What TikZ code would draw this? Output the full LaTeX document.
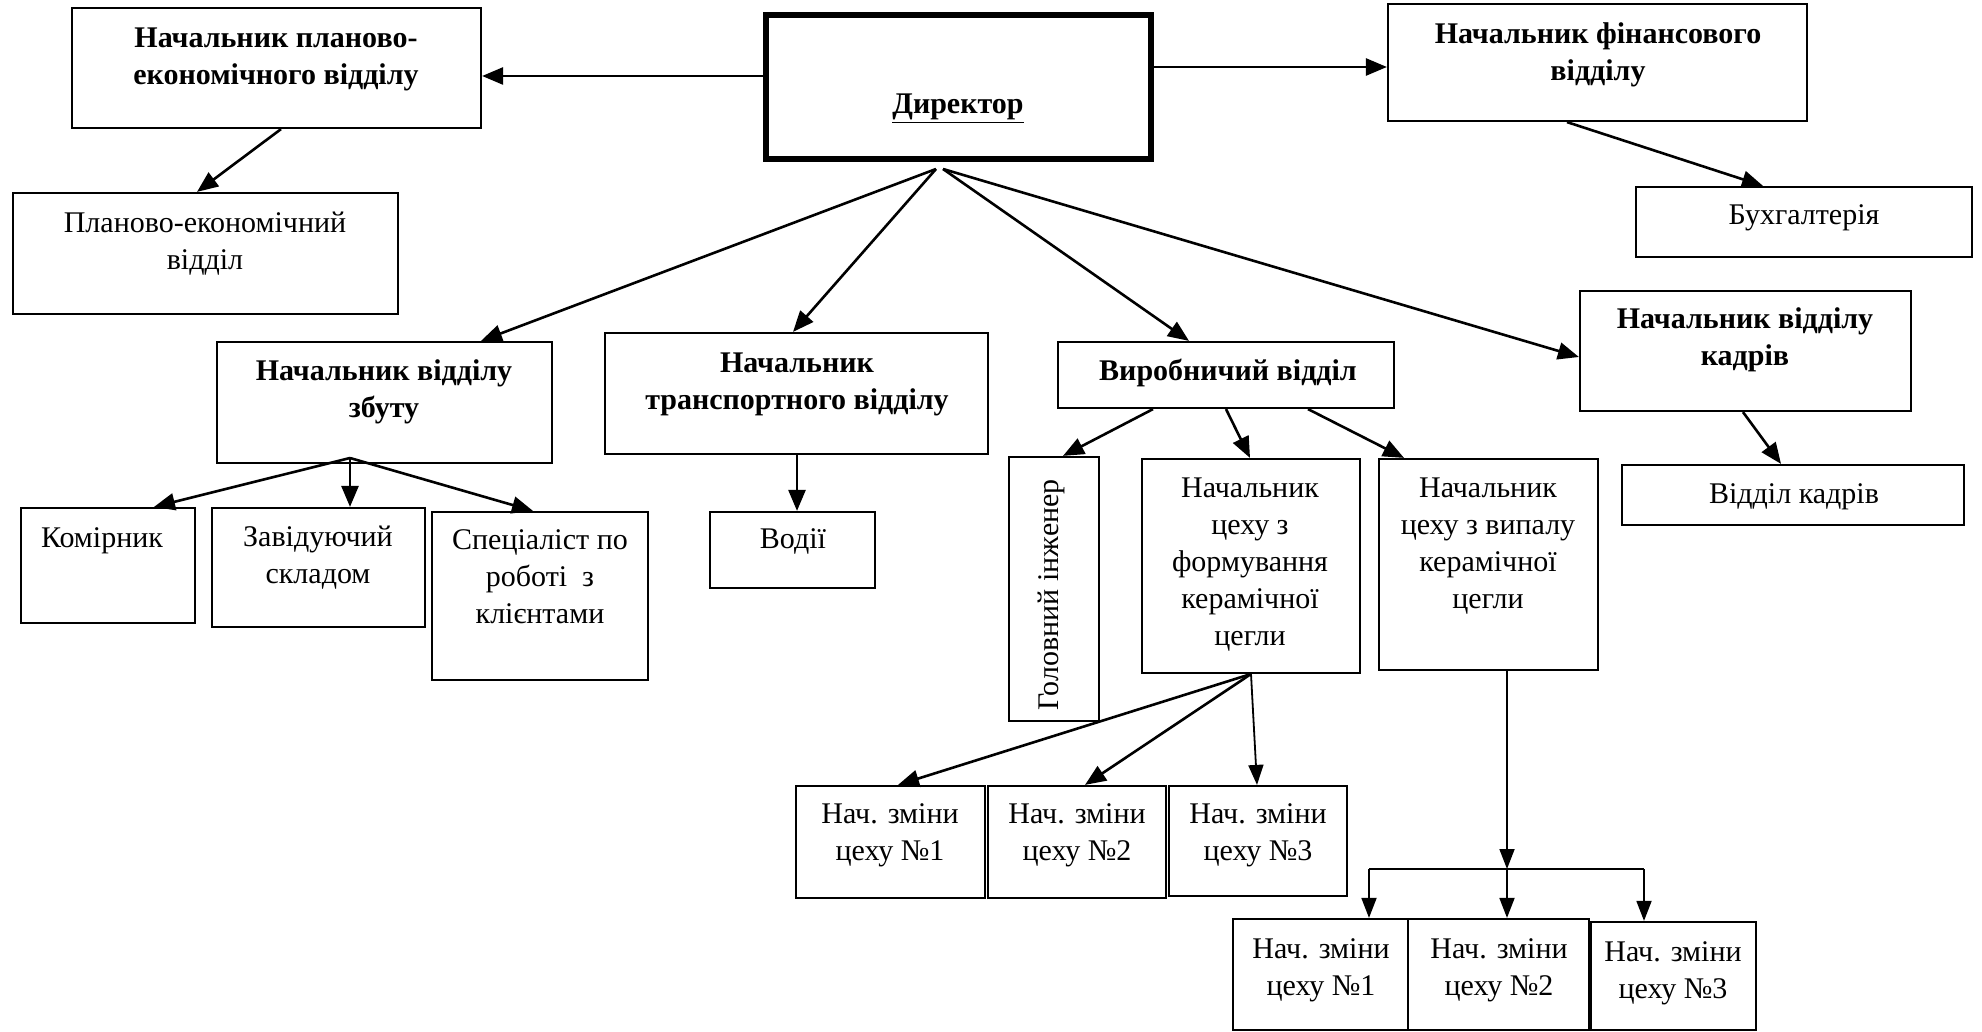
\documentclass[tikz,border=0pt]{standalone}
\usepackage{fontspec}
\setmainfont{Liberation Serif}
\usetikzlibrary{arrows.meta,fit,calc}
\newcommand\firstln{\rule{0pt}{12pt}}
\begin{document}
\begin{tikzpicture}[x=0.5pt,y=-0.5pt,
  box/.style={draw, line width=1.1pt, inner sep=0pt},
  dirbox/.style={draw, line width=2.6pt, inner sep=0pt},
  txt/.style={font=\fontsize{15}{18.5}\selectfont, align=center, inner sep=0pt, anchor=north},
  btxt/.style={txt, font=\fontsize{15}{18.5}\selectfont\bfseries},
  arr/.style={line width=1.3pt, -{Triangle[length=10.5pt,width=8.5pt]}},
  tarr/.style={line width=0.9pt, -{Triangle[length=10pt,width=7.5pt]}},
  ln/.style={line width=1.3pt}]
\useasboundingbox (0,0) rectangle (1982,1032);

% boxes
\node (pehead) [box, fit={(72,8) (481,128)}] {};
\node (dir)    [dirbox, fit={(766,15) (1151,159)}] {};
\node (fin)    [box, fit={(1388,4) (1807,121)}] {};
\node (pedept) [box, fit={(13,193) (398,314)}] {};
\node (buh)    [box, fit={(1636,187) (1972,257)}] {};
\node (sales)  [box, fit={(217,342) (552,463)}] {};
\node (trans)  [box, fit={(605,333) (988,454)}] {};
\node (prod)   [box, fit={(1058,342) (1394,408)}] {};
\node (hrhead) [box, fit={(1580,291) (1911,411)}] {};
\node (hrdept) [box, fit={(1622,465) (1964,525)}] {};
\node (komir)  [box, fit={(21,508) (195,623)}] {};
\node (zav)    [box, fit={(212,508) (425,627)}] {};
\node (spec)   [box, fit={(432,512) (648,680)}] {};
\node (vodii)  [box, fit={(710,512) (875,588)}] {};
\node (gi)     [box, fit={(1009,457) (1099,721)}] {};
\node (form)   [box, fit={(1142,459) (1360,673)}] {};
\node (fire)   [box, fit={(1379,459) (1598,670)}] {};
\node (nia)    [box, fit={(796,786) (985,898)}] {};
\node (niia)   [box, fit={(988,786) (1166,898)}] {};
\node (niiia)  [box, fit={(1169,786) (1347,896)}] {};
\node (nib)    [box, fit={(1233,919) (1408,1030)}] {};
\node (niib)   [box, fit={(1408,919) (1589,1030)}] {};
\node (niiib)  [box, fit={(1591,922) (1756,1030)}] {};

% texts (north = first baseline - 24)
\node (t-pehead) [btxt] at (276,23) {\firstln Начальник планово-\\економічного відділу};
\node (t-dir)    [btxt] at (958,89) {\firstln\underline{Директор}};
\node (t-fin)    [btxt] at (1598,19) {\firstln Начальник фінансового\\відділу};
\node (t-pedept) [txt] at (205,208) {\firstln Планово-економічний\\відділ};
\node (t-buh)    [txt] at (1804,200) {\firstln Бухгалтерія};
\node (t-sales)  [btxt] at (384,356) {\firstln Начальник відділу\\збуту};
\node (t-trans)  [btxt] at (797,348) {\firstln Начальник\\транспортного відділу};
\node (t-prod)   [btxt] at (1228,356) {\firstln Виробничий відділ};
\node (t-hrhead) [btxt] at (1745,304) {\firstln Начальник відділу\\кадрів};
\node (t-hrdept) [txt] at (1794,479) {\firstln Відділ кадрів};
\node (t-komir)  [txt] at (102,523) {\firstln Комірник};
\node (t-zav)    [txt] at (318,522) {\firstln Завідуючий\\складом};
\node (t-spec)   [txt] at (540,525) {\firstln Спеціаліст по\\роботі\ \ з\\клієнтами};
\node (t-vodii)  [txt] at (793,524) {\firstln Водії};
\node (t-gi)     [txt, anchor=center, rotate=90] at (1051,595) {Головний інженер};
\node (t-form)   [txt] at (1250,473) {\firstln Начальник\\цеху з\\формування\\керамічної\\цегли};
\node (t-fire)   [txt] at (1488,473) {\firstln Начальник\\цеху з випалу\\керамічної\\цегли};
\node (t-nia)    [txt] at (890,799) {\firstln Нач. зміни\\цеху №1};
\node (t-niia)   [txt] at (1077,799) {\firstln Нач. зміни\\цеху №2};
\node (t-niiia)  [txt] at (1258,799) {\firstln Нач. зміни\\цеху №3};
\node (t-nib)    [txt] at (1321,934) {\firstln Нач. зміни\\цеху №1};
\node (t-niib)   [txt] at (1499,934) {\firstln Нач. зміни\\цеху №2};
\node (t-niiib)  [txt] at (1673,937) {\firstln Нач. зміни\\цеху №3};

% connector points
\coordinate (dfl) at (936,169);
\coordinate (dfr) at (943,169);
\coordinate (sf) at (350,458);
\coordinate (ff) at (1251,674);
\coordinate (jn) at (1507,869);
\coordinate (jl) at (1369,869);
\coordinate (jr) at (1644,869);

% connectors
\draw[arr] (dir.west |- 0,76) -- (pehead.east |- 0,76);
\draw[arr] (dir.east |- 0,67) -- (fin.west |- 0,67);
\draw[arr] (pehead.south -| 281,0) -- (pedept.north -| 197,0);
\draw[arr] (fin.south -| 1567,0) -- (buh.north -| 1763,0);

\draw[arr] (dfl) -- (sales.north -| 481,0);
\draw[arr] (dfl) -- (trans.north -| 793,0);
\draw[arr] (dfr) -- (prod.north -| 1189,0);
\draw[arr] (dfr) -- (hrhead.west |- 0,357);

\draw[arr] (sf) -- (komir.north -| 154,0);
\draw[arr] (sf) -- (zav.north -| sf);
\draw[arr] (sf) -- (spec.north -| 533,0);
\draw[ln] (sales.south -| sf) -- (sf);

\draw[arr] (trans.south -| 797,0) -- (vodii.north -| 797,0);

\draw[arr] (prod.south -| 1153,0) -- (gi.north -| 1063,0);
\draw[arr] (prod.south -| 1226,0) -- (form.north -| 1250,0);
\draw[arr] (prod.south -| 1308,0) -- (fire.north -| 1404,0);

\draw[arr] (hrhead.south -| 1743,0) -- (hrdept.north -| 1781,0);

\draw[arr] (ff) -- (nia.north -| 898,0);
\draw[arr] (ff) -- (niia.north -| 1085,0);
\draw[tarr] (ff) -- (niiia.north -| 1257,0);

\draw[tarr] (fire.south -| jn) -- (jn);
\draw[ln] (jl) -- (jr);
\draw[tarr] (jl) -- (nib.north -| jl);
\draw[tarr] (jn) -- (niib.north -| jn);
\draw[tarr] (jr) -- (niiib.north -| jr);
\end{tikzpicture}
\end{document}
